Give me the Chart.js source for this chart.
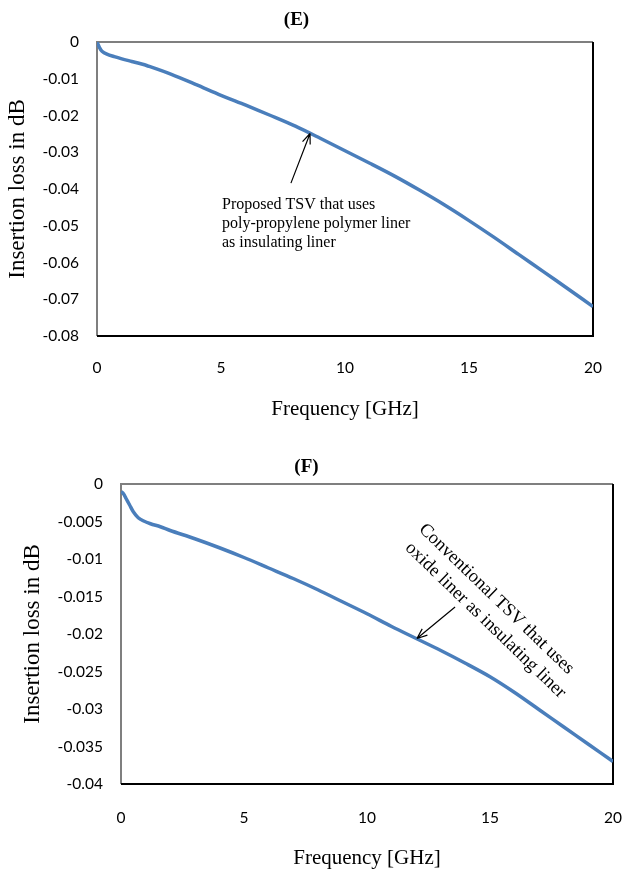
<!DOCTYPE html>
<html lang="en">
<head>
<meta charset="UTF-8">
<title>Insertion loss vs frequency</title>
<script src="https://cdn.jsdelivr.net/npm/chart.js"></script>
<style>
  body { margin: 0; background: #fff; }
  .box { position: absolute; left: 0; width: 625px; }
  #boxE { top: 0; height: 440px; }
  #boxF { top: 438px; height: 431px; }
</style>
</head>
<body>
<div class="box" id="boxE"><canvas id="chartE" width="625" height="440"></canvas></div>
<div class="box" id="boxF"><canvas id="chartF" width="625" height="431"></canvas></div>
<script>
// (E) proposed TSV, poly-propylene liner
const freqE = [0, 0.1, 0.2, 0.4, 0.7, 1.0, 1.4, 1.8, 2, 3, 4, 5, 6, 7, 8, 9, 10, 11, 12, 13, 14, 15, 16, 17, 18, 19, 20];
const lossE = [0, -0.0015, -0.0025, -0.0033, -0.0040, -0.0046, -0.0053, -0.0060, -0.0064, -0.0088, -0.0116, -0.0145,
  -0.0172, -0.0200, -0.0229, -0.0262, -0.0296, -0.0330, -0.0365, -0.0403, -0.0443, -0.0486, -0.0531, -0.0578, -0.0625, -0.0672, -0.0720];

// (F) conventional TSV, oxide liner
const freqF = [0, 0.1, 0.2, 0.35, 0.5, 0.7, 0.9, 1.2, 1.6, 2, 3, 4, 5, 6, 7, 8, 9, 10, 11, 12, 13, 14, 15, 16, 17, 18, 19, 20];
const lossF = [-0.0010, -0.0013, -0.0019, -0.0028, -0.0037, -0.0045, -0.0049, -0.0053, -0.0057, -0.0062, -0.0073, -0.0085,
  -0.0098, -0.0112, -0.0126, -0.0141, -0.0157, -0.0173, -0.0190, -0.0206, -0.0222, -0.0239, -0.0257, -0.0278, -0.0301, -0.0324, -0.0347, -0.0370];

const noteE = ['Proposed TSV that uses', 'poly-propylene polymer liner', 'as insulating liner'];
const noteF = ['Conventional TSV that uses', 'oxide liner as insulating liner'];

const serif = "'Liberation Serif', 'Times New Roman', serif";
const blue = '#4a7ebb';

// box around the plot area: grey top/left, black bottom/right
const frame = {
  id: 'frame',
  beforeDatasetsDraw(chart) {
    const { ctx, chartArea: a } = chart;
    ctx.save();
    ctx.lineWidth = 2;
    ctx.strokeStyle = '#7f7f7f';
    ctx.beginPath();
    ctx.moveTo(a.left, a.bottom); ctx.lineTo(a.left, a.top); ctx.lineTo(a.right, a.top);
    ctx.stroke();
    ctx.strokeStyle = '#000';
    ctx.beginPath();
    ctx.moveTo(a.right, a.top); ctx.lineTo(a.right, a.bottom); ctx.lineTo(a.left, a.bottom);
    ctx.stroke();
    ctx.restore();
  }
};

// arrow + text note, placed in data coordinates
const notes = {
  id: 'notes',
  afterDraw(chart, args, opt) {
    const { ctx, scales: { x, y } } = chart;
    ctx.save();
    const x0 = x.getPixelForValue(opt.arrow[0]), y0 = y.getPixelForValue(opt.arrow[1]);
    const x1 = x.getPixelForValue(opt.arrow[2]), y1 = y.getPixelForValue(opt.arrow[3]);
    const ang = Math.atan2(y1 - y0, x1 - x0);
    ctx.strokeStyle = '#000';
    ctx.lineWidth = 1.2;
    ctx.beginPath();
    ctx.moveTo(x0, y0); ctx.lineTo(x1, y1);
    [-0.38, 0.38].forEach(d => {
      ctx.moveTo(x1, y1);
      ctx.lineTo(x1 - 11 * Math.cos(ang + d), y1 - 11 * Math.sin(ang + d));
    });
    ctx.stroke();

    ctx.translate(x.getPixelForValue(opt.at[0]), y.getPixelForValue(opt.at[1]));
    ctx.rotate(opt.angle * Math.PI / 180);
    ctx.font = opt.font;
    ctx.fillStyle = '#000';
    ctx.textBaseline = 'middle';
    opt.lines.forEach((t, i) => ctx.fillText(t, i * (opt.shift || 0), i * opt.lineHeight));
    ctx.restore();
  }
};

function fmt(v) {
  return String(+v.toFixed(3));
}

function makeChart(id, c) {
  return new Chart(document.getElementById(id), {
    type: 'line',
    data: {
      datasets: [{
        data: c.freq.map((f, i) => ({ x: f, y: c.loss[i] })),
        borderColor: blue,
        borderWidth: 3.5,
        pointRadius: 0,
        fill: false,
        tension: 0.3
      }]
    },
    options: {
      responsive: false,
      animation: false,
      layout: { padding: { left: 0, right: c.right, top: 0, bottom: 0 } },
      plugins: {
        legend: { display: false },
        tooltip: { enabled: false },
        title: {
          display: true,
          text: c.title,
          color: '#000',
          font: { family: serif, size: 19, weight: 'bold', lineHeight: 1.2 },
          padding: c.titlePad
        },
        notes: c.note
      },
      scales: {
        x: {
          type: 'linear',
          min: 0, max: 20,
          afterFit: s => { s.height = c.xHeight; },
          // invisible tick marks keep the label gap without padding the right edge
          grid: { display: true, drawOnChartArea: false, drawTicks: true, tickLength: c.xTickLen, color: 'rgba(0,0,0,0)' },
          border: { display: false },
          ticks: { stepSize: 5, padding: 1, color: '#000', font: { family: 'Lato', size: 15.5 } },
          title: {
            display: true,
            text: 'Frequency [GHz]',
            color: '#000',
            font: { family: serif, size: 21, lineHeight: 1 },
            padding: { top: 0, bottom: c.xTitlePad }
          }
        },
        y: {
          min: c.yMin, max: 0,
          afterFit: s => { s.width = c.yWidth; },
          grid: { display: false, drawTicks: false },
          border: { display: false },
          ticks: { stepSize: c.yStep, padding: 18, color: '#000', font: { family: 'Lato', size: 15.5 }, callback: fmt },
          title: {
            display: true,
            text: 'Insertion loss in dB',
            color: '#000',
            font: { family: serif, size: 23, lineHeight: 1.2 },
            padding: { top: c.yTitlePad, bottom: 0 }
          }
        }
      }
    },
    plugins: [frame, notes]
  });
}

makeChart('chartE', {
  freq: freqE, loss: lossE, title: '(E)',
  titlePad: { top: 8.6, bottom: 10.6 },
  right: 32, yWidth: 97, xHeight: 104, xTickLen: 22, xTitlePad: 20,
  yMin: -0.08, yStep: 0.01, yTitlePad: 4.2,
  note: {
    lines: noteE, at: [5.04, -0.0444], angle: 0, lineHeight: 19,
    font: "16px 'Liberation Serif'", arrow: [7.82, -0.0384, 8.59, -0.0249]
  }
});

makeChart('chartF', {
  freq: freqF, loss: lossF, title: '(F)',
  titlePad: { top: 17.6, bottom: 5.6 },
  right: 12, yWidth: 121, xHeight: 85, xTickLen: 24, xTitlePad: 0.5,
  yMin: -0.04, yStep: 0.005, yTitlePad: 19.2,
  note: {
    lines: noteF, at: [12.22, -0.0057], angle: 44, lineHeight: 23, shift: 3,
    font: "18.5px 'Liberation Serif'", arrow: [13.58, -0.0164, 12.03, -0.0206]
  }
});
</script>
</body>
</html>
